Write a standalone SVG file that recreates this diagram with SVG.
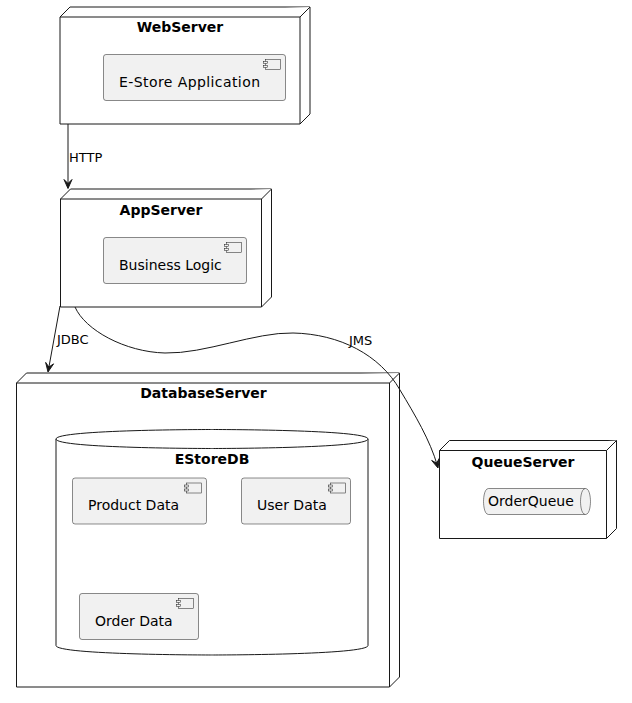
<svg xmlns="http://www.w3.org/2000/svg" width="632" height="703" viewBox="0 0 632 703">
<style>
.node{fill:#FFFFFF;stroke:#181818;stroke-width:1}
.comp{fill:#F1F1F1;stroke:#181818;stroke-width:0.5}
.db{fill:#FFFFFF;stroke:#181818;stroke-width:1}
.title{font-family:"DejaVu Sans",sans-serif;font-size:14px;font-weight:bold;fill:#000000;text-anchor:middle}
.lbl{font-family:"DejaVu Sans",sans-serif;font-size:14px;fill:#000000}
.elbl{font-family:"DejaVu Sans",sans-serif;font-size:13px;fill:#000000}
.edge{fill:none;stroke:#181818;stroke-width:1}
.head{fill:#181818;stroke:#181818;stroke-width:1}
</style>
<defs>
<g id="icon">
<rect x="0" y="0" width="15" height="10" class="comp"/>
<rect x="-2" y="2" width="4" height="2" class="comp"/>
<rect x="-2" y="6" width="4" height="2" class="comp"/>
</g>
</defs>
<rect width="632" height="703" fill="#FFFFFF"/>

<g id="WebServer">
<polygon class="node" points="60,17 70,7 310,7 310,114 300,124 60,124"/>
<polyline class="node" points="60,17 300,17 310,7" fill="none"/>
<line class="node" x1="300" y1="17" x2="300" y2="124"/>
<text class="title" x="180" y="31.5">WebServer</text>
</g>
<g id="EStoreApplication">
<rect class="comp" x="103.5" y="54.5" width="182" height="46" rx="2.5"/>
<use href="#icon" x="265.5" y="59.5"/>
<text class="lbl" x="119" y="87" textLength="141" lengthAdjust="spacing">E-Store Application</text>
</g>

<g id="AppServer">
<polygon class="node" points="60.5,199 70.5,189 271.5,189 271.5,297 261.5,307 60.5,307"/>
<polyline class="node" points="60.5,199 261.5,199 271.5,189" fill="none"/>
<line class="node" x1="261.5" y1="199" x2="261.5" y2="307"/>
<text class="title" x="161" y="215">AppServer</text>
</g>
<g id="BusinessLogic">
<rect class="comp" x="103.5" y="237.5" width="143" height="46" rx="2.5"/>
<use href="#icon" x="226.5" y="242.5"/>
<text class="lbl" x="119" y="270">Business Logic</text>
</g>

<g id="DatabaseServer">
<polygon class="node" points="16.5,383 26.5,373 399.5,373 399.5,677 389.5,687 16.5,687"/>
<polyline class="node" points="16.5,383 389.5,383 399.5,373" fill="none"/>
<line class="node" x1="389.5" y1="383" x2="389.5" y2="687"/>
<text class="title" x="203.5" y="398">DatabaseServer</text>
</g>
<g id="EStoreDB">
<path class="db" d="M56,439 C56,429.5 212,429.5 212,429.5 C212,429.5 368,429.5 368,439 L368,645.5 C368,655 212,655 212,655 C212,655 56,655 56,645.5 Z"/>
<path class="db" fill="none" d="M56,439 C56,448.5 212,448.5 212,448.5 C212,448.5 368,448.5 368,439"/>
<text class="title" x="212" y="464">EStoreDB</text>
</g>
<g id="ProductData">
<rect class="comp" x="72.5" y="478" width="134" height="46" rx="2.5"/>
<use href="#icon" x="186.5" y="483"/>
<text class="lbl" x="88" y="510">Product Data</text>
</g>
<g id="UserData">
<rect class="comp" x="241.5" y="478" width="109" height="46" rx="2.5"/>
<use href="#icon" x="330.5" y="483"/>
<text class="lbl" x="257" y="510">User Data</text>
</g>
<g id="OrderData">
<rect class="comp" x="79.5" y="593.5" width="119" height="46" rx="2.5"/>
<use href="#icon" x="178.5" y="598.5"/>
<text class="lbl" x="95" y="626">Order Data</text>
</g>

<g id="QueueServer">
<polygon class="node" points="439.5,450.5 449.5,440.5 616.5,440.5 616.5,528.5 606.5,538.5 439.5,538.5"/>
<polyline class="node" points="439.5,450.5 606.5,450.5 616.5,440.5" fill="none"/>
<line class="node" x1="606.5" y1="450.5" x2="606.5" y2="538.5"/>
<text class="title" x="523" y="466.5">QueueServer</text>
</g>
<g id="OrderQueue">
<path class="comp" d="M488.5,488.5 L585.5,488.5 C590.5,488.5 590.5,501.5 590.5,501.5 C590.5,501.5 590.5,514.5 585.5,514.5 L488.5,514.5 C483.5,514.5 483.5,501.5 483.5,501.5 C483.5,501.5 483.5,488.5 488.5,488.5 Z"/>
<path class="comp" fill="none" d="M585.5,488.5 C580.5,488.5 580.5,501.5 580.5,501.5 C580.5,501.5 580.5,514.5 585.5,514.5"/>
<text class="lbl" x="488" y="506">OrderQueue</text>
</g>

<g id="connectors">
<line class="edge" x1="68" y1="124" x2="68" y2="187"/>
<polygon class="head" points="68,188.5 64,179.5 68,183.5 72,179.5"/>
<text class="elbl" x="69" y="161.5">HTTP</text>

<line class="edge" x1="60" y1="306" x2="48.3" y2="370.5"/>
<polygon class="head" points="48,372 45.67,362.42 48.9,367.08 53.55,363.86"/>
<text class="elbl" x="57" y="344">JDBC</text>

<path class="edge" d="M75,307 C85,330 125,352 165,353 C205,354 255,332 293,333 C340,334 380,355 400,390 C415,415 430,440 437.5,466"/>
<polygon class="head" points="438,468 431.68,460.44 436.63,463.19 439.38,458.24"/>
<text class="elbl" x="349" y="344.5">JMS</text>
</g>
</svg>
